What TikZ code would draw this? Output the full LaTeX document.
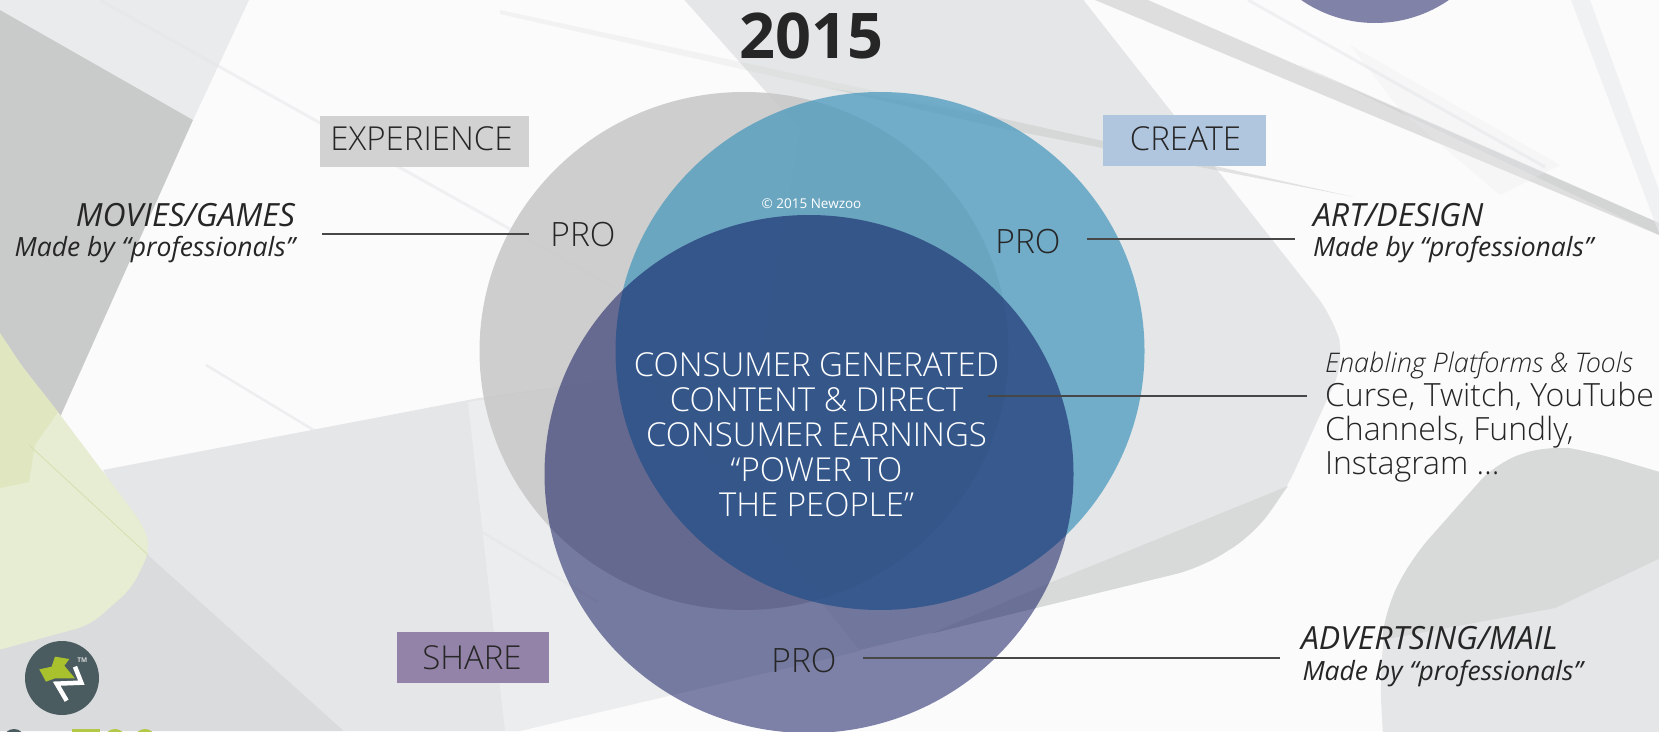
\documentclass[tikz,border=0pt]{standalone}
\usepackage{fontspec}
\setmainfont{Open Sans}
\newfontfamily\osl{Open Sans Light}[ItalicFont={Open Sans Light Italic}]
\definecolor{bgc}{HTML}{FCFBFC}
\definecolor{lightg}{HTML}{E4E6E7}
\definecolor{lighter}{HTML}{ECEDEE}
\definecolor{stripg}{HTML}{C9CBCB}
\definecolor{bandg}{HTML}{E9EBEC}
\definecolor{lowg}{HTML}{D9DBDD}
\definecolor{wedge}{HTML}{D8DADA}
\definecolor{ink}{HTML}{262626}
\definecolor{greenA}{RGB}{231,237,210}
\definecolor{greenB}{RGB}{223,230,192}
\definecolor{greenC}{RGB}{213,223,176}
\definecolor{topcirc}{RGB}{128,130,168}
\definecolor{vgray}{RGB}{199,199,199}
\definecolor{vblue}{RGB}{69,151,189}
\definecolor{vpurple}{RGB}{0,8,84}
\definecolor{logod}{RGB}{74,92,96}
\definecolor{logog}{RGB}{170,193,46}
\definecolor{logot}{RGB}{178,200,70}
\definecolor{boxa}{RGB}{210,210,210}
\definecolor{boxb}{RGB}{176,198,223}
\definecolor{boxc}{RGB}{148,131,168}
\tikzset{
  x=1pt,y=-1pt,
  lab/.style={inner sep=0pt,outer sep=0pt,text=ink,anchor=base},
  leader/.style={draw=ink!85,line width=1.8pt},
  tagbox/.style={fill=#1,inner sep=0pt,outer sep=0pt},
  venn/.style={fill=#1,draw=none},
  streak/.style={fill=#1,draw=none,opacity=.5}
}
\begin{document}
\begin{tikzpicture}
\clip (0,0) rectangle (1659,731);
\fill[bgc] (0,0) rectangle (1659,731);
% background shapes
\fill[bandg] (0,0) -- (249,0) -- (193,120) -- (0,10) -- cycle;
\fill[stripg] (0,10) -- (193,120) -- (61,415) -- (29,490) -- (0,490) -- cycle;
\fill[lowg] (0,640) -- (150,550) -- (344,731) -- (0,731) -- cycle;
\fill[lightg] (640,-50) -- (1044,-50) [rounded corners=25pt] -- (1333,317) -- (1345,360) -- (1285,492) -- (1253,535) -- (1200,568) -- (1036,608) [sharp corners] -- (519,731) -- (344,731) -- (148,555) -- (103,470) -- (479,398) -- (760,357) -- (800,130) -- cycle;
\fill[lighter] (468,402) -- (640,375) -- (860,651) -- (519,731) -- (505,731) -- cycle;
\fill[wedge] (1288,486) [rounded corners=25pt] -- (1253,535) -- (1200,568) -- (1036,608) [sharp corners] -- (930,634) -- (1052,582) -- cycle;
% lower right shape
\fill[lightg,rounded corners=25pt] (1720,490) -- (1592,452) -- (1550,445) -- (1497,462) -- (1412,558) -- (1386,608) -- (1380,682) -- (1386,790) -- (1720,790) -- cycle;
\fill[wedge] (1720,490) [rounded corners=25pt] -- (1592,452) -- (1550,445) -- (1497,462) -- (1412,558) -- (1386,608) [sharp corners] -- (1382,640) -- (1555,608) -- (1720,530) -- cycle;
% green shape
\fill[greenA,rounded corners=14pt] (0,333) -- (21,365) -- (58,412) -- (143,525) -- (151,548) -- (132,588) -- (90,625) -- (-20,655) -- cycle;
\fill[greenB] (0,333) -- (21,365) -- (58,412) -- (35,445) -- (29,482) -- (0,488) -- cycle;
\draw[greenC,line width=.8pt] (29,445) -- (148,555);
% streaks
\fill[streak=lightg!85!black] (1095,0) -- (1148,0) -- (1659,223) -- (1659,235) -- cycle;
\fill[streak=stripg] (1300,65) -- (1659,223) -- (1659,235) -- cycle;
\fill[stripg,opacity=.18] (500,10) -- (1000,118) -- (1000,128) -- (500,14) -- cycle;
\fill[streak=stripg] (830,88) -- (1000,118) -- (1354,197) -- (1000,128) -- cycle;
\fill[bandg,opacity=.3] (1350,45) -- (1560,165) -- (1500,195) -- (1400,110) -- cycle;
\fill[bandg,opacity=.6] (1571,0) -- (1590,0) -- (1659,190) -- (1659,233) -- cycle;
\draw[lightg,line width=3pt,opacity=.5] (100,0) -- (619,290);
\draw[lightg,line width=2.5pt,opacity=.6] (206,365) -- (598,602);
\draw[lightg,line width=3pt,opacity=.5] (1248,0) -- (1545,167);
% top right circle fragment
\fill[venn=topcirc] (1375,-107) circle [radius=130];
% Venn
\fill[venn=vgray,opacity=.85] (744,351) ellipse [x radius=264.5,y radius=259];
\fill[venn=vblue,opacity=.72] (880,351) ellipse [x radius=264.5,y radius=259];
\fill[venn=vpurple,opacity=.5] (809,474) ellipse [x radius=264.5,y radius=259];
% logo
\fill[logod] (62,678) circle [radius=37];
\begin{scope}[shift={(20,635)},x=.3333pt,y=-.3333pt]
\fill[logog] (58,103) -- (95,95) -- (105,65) -- (148,72) -- (133,92) -- (165,130) -- (105,130) -- (78,140) -- cycle;
\draw[white,line width=4.5pt,line join=miter] (165,95) -- (184,143) -- (110,146) -- (140,197);
\node[inner sep=0pt,text=white!85!black,font=\fontsize{6.5}{6.5}\selectfont\bfseries] (tm) at (187,75) {TM};
\end{scope}
\fill[logod] (14,738) ellipse [x radius=10,y radius=9];
\fill[logot] (72,729) rectangle (100,732);
\fill[logot] (115,738) ellipse [x radius=10,y radius=9];
\fill[logot] (145,738) ellipse [x radius=10,y radius=9];
% boxes
\node[tagbox=boxa,minimum width=209pt,minimum height=51pt] (experiencebox) at (424.5,141.5) {};
\node[tagbox=boxb,minimum width=163pt,minimum height=51pt] (createbox) at (1184.5,140.5) {};
\node[tagbox=boxc,minimum width=152pt,minimum height=51pt] (sharebox) at (473,657.5) {};
\node[lab,font=\osl\fontsize{33}{33}\selectfont] (experience) at (421.5,150) {EXPERIENCE};
\node[lab,font=\osl\fontsize{33}{33}\selectfont] (create) at (1185.5,150) {CREATE};
\node[lab,font=\osl\fontsize{33}{33}\selectfont] (share) at (472,669) {SHARE};
% title
\node[lab,font=\fontsize{63}{63}\selectfont\bfseries] (title) at (811.5,58) {2015};
\node[lab,text=white,font=\fontsize{13.5}{13.5}\selectfont] (copy) at (811.5,208) {© 2015 Newzoo};
% PRO
\node[lab,font=\osl\fontsize{33.5}{33.5}\selectfont] (pro1) at (583,246) {PRO};
\node[lab,font=\osl\fontsize{33.5}{33.5}\selectfont] (pro2) at (1028,253) {PRO};
\node[lab,font=\osl\fontsize{33.5}{33.5}\selectfont] (pro3) at (804,672) {PRO};
% centre
\node[inner sep=0pt,anchor=base,text=white,align=center,font=\osl\fontsize{33}{34.9}\selectfont] (core) at (816.5,516.5) {CONSUMER GENERATED\\CONTENT \& DIRECT\\CONSUMER EARNINGS\\“POWER TO\\THE PEOPLE”};
% side labels
\node[lab,anchor=base east,font=\itshape\fontsize{32}{32}\selectfont] (movies) at (295,226) {MOVIES/GAMES};
\node[lab,anchor=base east,font=\itshape\fontsize{26.5}{26.5}\selectfont] (moviessub) at (295,256) {Made by “professionals”};
\node[lab,anchor=base west,font=\itshape\fontsize{32}{32}\selectfont] (art) at (1313,226) {ART/DESIGN};
\node[lab,anchor=base west,font=\itshape\fontsize{26.5}{26.5}\selectfont] (artsub) at (1313,256) {Made by “professionals”};
\node[lab,anchor=base west,font=\osl\itshape\fontsize{27}{27}\selectfont] (enabling) at (1325,372) {Enabling Platforms \& Tools};
\node[lab,anchor=base west,font=\osl\fontsize{32}{34}\selectfont,align=left] (tools) at (1325,474) {Curse, Twitch, YouTube\\Channels, Fundly,\\Instagram …};
\node[lab,anchor=base west,font=\itshape\fontsize{32}{32}\selectfont] (adv) at (1301,649) {ADVERTSING/MAIL};
\node[lab,anchor=base west,font=\itshape\fontsize{26.5}{26.5}\selectfont] (advsub) at (1302.5,680) {Made by “professionals”};
% connectors
\coordinate (a1) at (322,234); \coordinate (a2) at (529,234);
\coordinate (b1) at (1087,239); \coordinate (b2) at (1295,239);
\coordinate (c1) at (988,396); \coordinate (c2) at (1307,396);
\coordinate (d1) at (863,658); \coordinate (d2) at (1280,658);
\draw[leader] (a1) -- (a2);
\draw[leader] (b1) -- (b2);
\draw[leader] (c1) -- (c2);
\draw[leader] (d1) -- (d2);
\end{tikzpicture}
\end{document}
